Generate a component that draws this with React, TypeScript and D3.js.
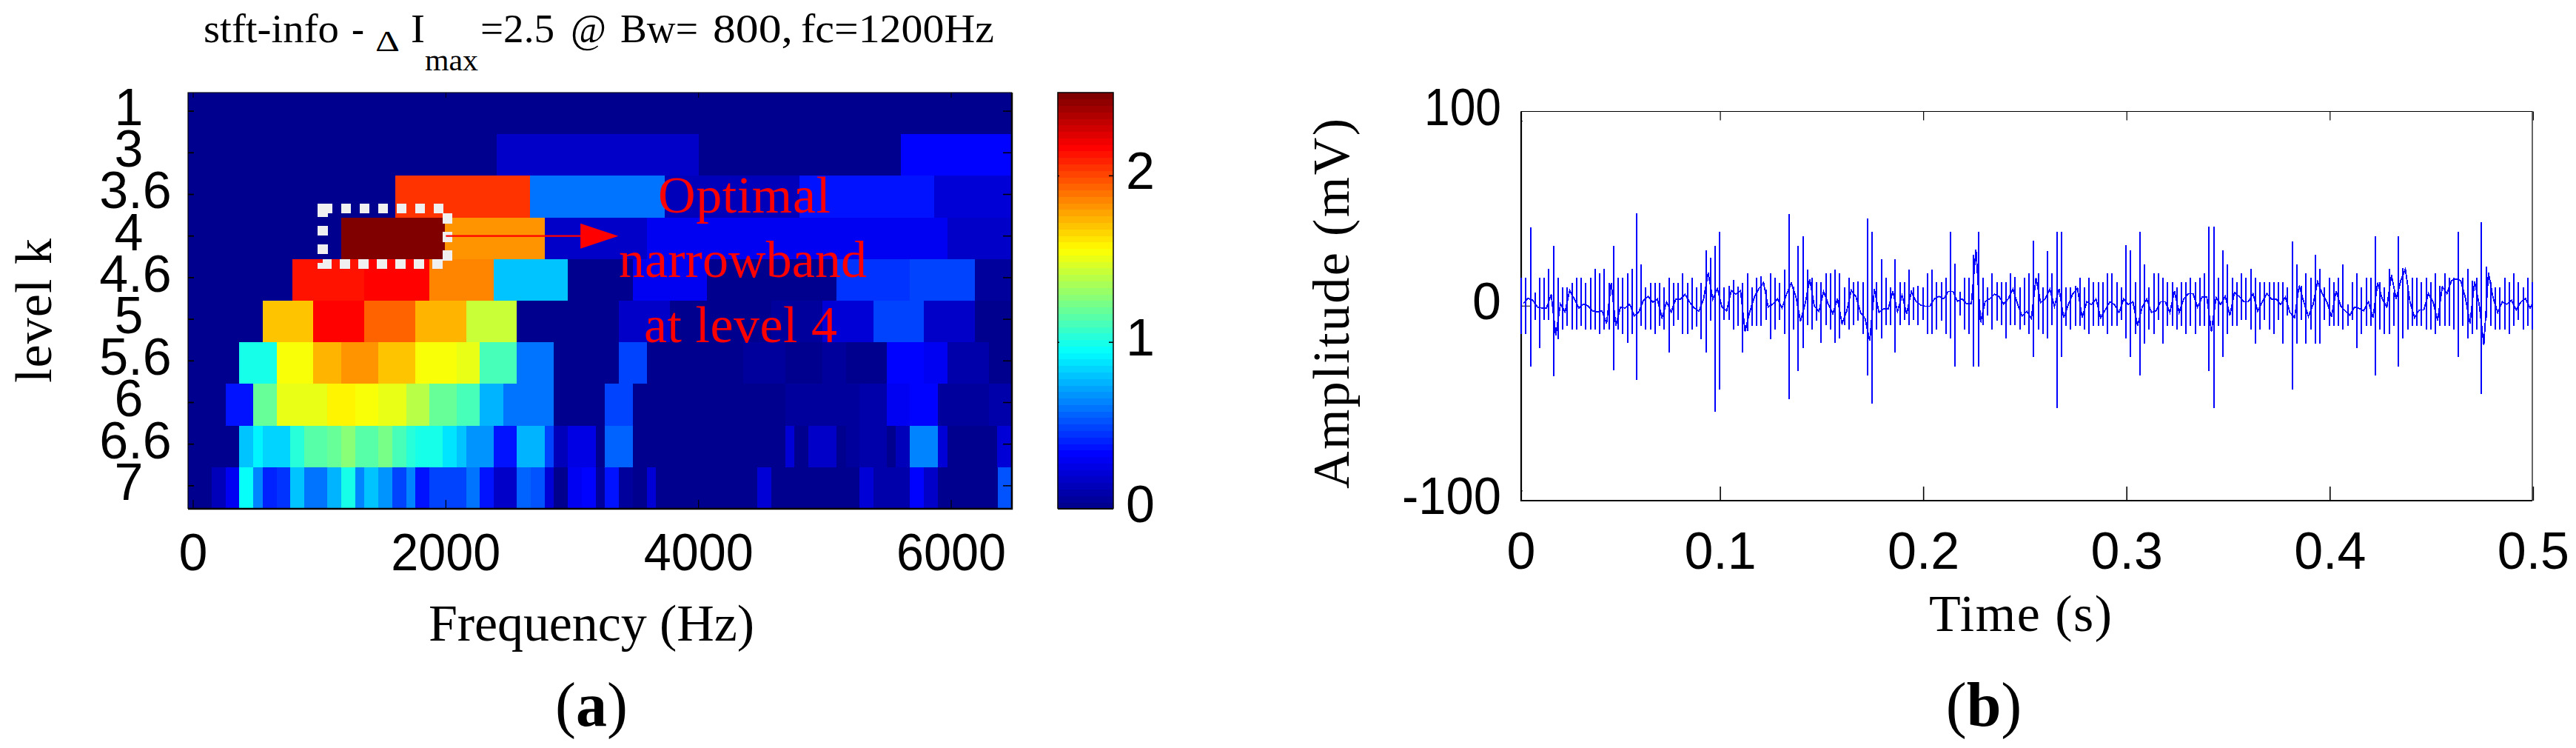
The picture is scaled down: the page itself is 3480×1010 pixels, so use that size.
import React from 'react';
import * as d3 from 'd3';

// panel (a): kurtogram
const levels = ['1', '3', '3.6', '4', '4.6', '5', '5.6', '6', '6.6', '7'];
const freqTicks = [0, 2000, 4000, 6000];
const colorTicks = [0, 1, 2];
const FREQ_MIN = -41;
const FREQ_MAX = 6480;
const I_MAX = 2.5;

// where a new cell starts on each level (Hz), the first one starts at FREQ_MIN
const rowStarts: number[][] = [
  [FREQ_MIN],
  [FREQ_MIN, 2400, 4000, 5600],
  [FREQ_MIN, 1600, 2667, 3733, 4800, 5867],
  [FREQ_MIN, 1172, 1990, 2783, 3589, 4356, 5968],
  [FREQ_MIN, 785, 1356, 1869, 2379, 2967, 3481, 4066, 5089, 5674, 6187],
  [FREQ_MIN, 551, 952, 1356, 1758, 2161, 2563, 3368, 3773, 4573, 4978, 5383, 5784, 6187],
  [FREQ_MIN, 366, 661, 952, 1172, 1465, 1758, 2086, 2270, 2563, 2856, 3368, 3589, 4356, 4690, 4978, 5165, 5492, 5784, 5968, 6300],
  [FREQ_MIN, 258, 477, 661, 1063, 1283, 1465, 1687, 1869, 2086, 2270, 2454, 2856, 3260, 3481, 4690, 5089, 5275, 5492, 5674, 5895, 6300],
  [FREQ_MIN, 366, 477, 551, 770, 881, 1063, 1172, 1283, 1465, 1576, 1687, 1758, 1977, 2086, 2161, 2379, 2563, 2783, 2856, 2967, 3188, 3260, 3481, 4690, 4759, 4870, 5089, 5165, 5275, 5492, 5563, 5674, 5895, 5968, 6365],
  [FREQ_MIN, 149, 258, 366, 477, 551, 661, 770, 881, 1063, 1172, 1283, 1356, 1465, 1576, 1687, 1758, 1869, 2086, 2161, 2270, 2381, 2563, 2671, 2783, 2856, 2967, 3078, 3188, 3260, 3368, 3481, 3589, 3661, 4467, 4575, 5273, 5384, 5674, 5784, 5897, 6367],
];

// delta I of each cell, same order as rowStarts
const rowValues: number[][] = [
  [0],
  [0, 0.17, 0, 0.35],
  [0, 2.07, 0.59, 0.15, 0.39, 0.2],
  [0, 2.5, 1.8, 0.17, 0.31, 0.28, 0.17],
  [0, 2.11, 2.15, 1.84, 0.79, 0, 0.31, 0, 0.43, 0.5, 0.05],
  [0, 1.68, 2.15, 1.95, 1.75, 1.41, 0, 0.17, 0.02, 0.05, 0.2, 0.47, 0.17, 0],
  [0, 0.98, 1.53, 1.75, 1.8, 1.68, 1.53, 1.49, 1.1, 0.59, 0.02, 0.47, 0, 0.07, 0.02, 0.05, 0, 0.35, 0.28, 0.1, 0.02],
  [0, 0.39, 1.18, 1.49, 1.6, 1.53, 1.49, 1.38, 1.18, 1.1, 0.75, 0.59, 0, 0.5, 0, 0.06, 0.04, 0.1, 0.31, 0.33, 0.06, 0.1],
  [0, 0.79, 0.92, 0.84, 1.03, 1.14, 1.18, 1.25, 1.15, 1.22, 1.1, 1.03, 0.98, 0.86, 0.79, 0.69, 0.39, 0.75, 0.47, 0.13, 0.27, 0.01, 0.55, 0, 0.2, 0, 0.17, 0.02, 0.05, 0.1, 0.03, 0.15, 0.64, 0.2, 0, 0.2],
  [0, 0.15, 0.3, 0.94, 0.64, 0.42, 0.46, 0.79, 0.62, 0.75, 0.98, 0.64, 0.79, 0.69, 0.5, 0.66, 0.36, 0.49, 0.47, 0.6, 0.39, 0.17, 0.58, 0.53, 0.2, 0, 0.28, 0.33, 0.05, 0.36, 0.06, 0.02, 0.2, 0, 0.2, 0, 0.22, 0.1, 0.33, 0.16, 0, 0.53],
];

// panel (b): vibration signal, one column of the trace per entry (mV)
const timeTicks = [0, 0.1, 0.2, 0.3, 0.4, 0.5];
const ampTicks = [100, 0, -100];
const TIME_MIN = 0.002;
const TIME_MAX = 0.4995;
const spikeHigh = [
  14.7, 14.7, 40.6, 7, 14.7, 14.7, 19, 31, 14.7, 9.5, 9.5, 12, 14.7, 14.7, 12, 14.7, 19, 16.7, 19, 12,
  31, 14.7, 14.7, 16.7, 19, 47.6, 21.5, 9.5, 12, 12, 12, 9.5, 14.7, 12, 12, 16.7, 12, 14.7, 9.5, 12,
  28.5, 24.7, 31, 38, 9.5, 10.3, 13.3, 10, 12, 16.7, 9.5, 14.7, 15.3, 8.4, 16.7, 14.7, 12,
  18.9, 47.4, 10, 31, 35.7, 18.9, 14.4, 12.2, 12.2, 16.7, 16.7, 18.9, 16.7, 9.5, 14.4, 12.2, 12.8, 12.2, 45, 38,
  12.2, 24, 14.4, 9.5, 24, 12.2, 12.2, 18.9, 9.5, 10.3, 9.5, 16.7, 18.9, 12.2, 12.2, 14.4, 38, 21.7, 7.2, 14.4,
  14.4, 26.5, 38, 14.4, 9.5, 16.7, 12.2, 12.2, 12.2, 16.7, 15, 9.5, 14.4, 16.7, 33.5, 17, 9.5, 28.4, 16.7, 38, 38,
  9.5, 9.5, 10.2, 14.7, 9.5, 14.7, 12.2, 12.2, 12.2, 16.7, 16.7, 12.2, 9.5, 31.3, 28.5, 12.2, 38, 21.6, 9.5, 16.7,
  16.7, 14.7, 12.2, 12.2, 9.5, 12.2, 12.2, 14.7, 12.2, 14.7, 16.7, 40.7, 40.7, 14.7, 28.5, 21.6, 14.7, 12.2, 16.7, 14.7,
  19, 14.7, 12.2, 12.2, 12.2, 12.2, 12.2, 12.2, 9.5, 33.3, 21.6, 10.2, 16.7, 14.7, 26.3, 19, 9.5, 14.7, 12.2, 14.7,
  21.6, 0.8, 12.2, 16.7, 9.5, 14.7, 14.7, 35.8, 12.2, 9.5, 19, 7, 35.8, 19.5, 9.5, 14.7, 14.7, 12.2, 14.7, 12.2,
  16.7, 10.2, 16.7, 14.7, 14.7, 38, 14.7, 19, 13, 14.7, 43, 20.2, 12.2, 9.5, 9.5, 14.7, 12.2, 16.7, 12.2, 9.5, 14.7, 12.2,
];
const spikeLow = [
  -14.4, -14.4, -31, -7, -21.6, -7, -7, -36, -17, -12, -10, -12, -12, -10, -12, -12, -12, -14.4, -12, -12,
  -33, -12, -14.4, -19, -14.4, -38, -10, -12, -12, -14.4, -10, -12, -24, -10, -7, -14.4, -14.4, -12, -10.5, -17,
  -24, -7.5, -54.5, -43, -7, -7, -12, -10, -24, -13, -10, -10, -10, -7, -17, -12, -7,
  -14.4, -47.8, -12.2, -33.3, -21.7, -9.9, -12.2, -7.4, -19, -9.9, -12.2, -19, -16.6, -9.9, -12.2, -9.9, -7.4, -14.4, -35.6, -50,
  -12.2, -16.6, -9.9, -9.9, -24, -9.9, -7, -9.9, -7, -9.9, -7, -14.4, -14.4, -12.2, -7.4, -14.4, -16.6, -31, -5, -12.2,
  -14.4, -31, -31, -9.9, -5, -12.2, -7.4, -9.9, -16.6, -9.9, -9.9, -12.2, -9.9, -14.4, -26, -12.2, -14.4, -16.6, -9.9, -52.3, -26,
  -10, -12, -10, -10, -12, -14.4, -10, -10, -10, -14.4, -10, -10, -7, -16.7, -26, -14.4, -35.7, -19.2, -12, -14.4,
  -7, -19.2, -10, -10, -12, -10, -14.4, -10, -14.4, -10, -10, -33.3, -52.4, -10, -26, -14.4, -10, -10, -7, -7,
  -12, -19.2, -12, -7, -12, -14.4, -7, -19.2, -4.7, -42.9, -19.2, -7, -19.2, -12, -19.2, -19.2, -7, -10, -10, -10,
  -12, -10, -7, -21.6, -14.4, -10, -10, -35.7, -12, -14.4, -14.4, -10, -31, -16.7, -12, -10, -10, -10, -12, -12,
  -14.4, -10, -10, -10, -12, -26, -10, -16.7, -14.4, -12, -45, -6, -10, -12, -12, -12, -14.4, -10, -7, -12, -10, -12,
];
const spikeMid = [
  1.5, 4, 3, -0.5, -1, -1, 6, -15, 1, -3, 8, 3.6, -1, 1, 0, -2.6, -3, -2.5, -9, 12,
  -10, -0.5, -1, 1, -5, -3, 3, 5, 2, 3.6, -6, 2, -3, 3.6, 3.6, 6, 2, -1, -2.6, 3.6,
  17, 3.6, 9, -0.5, -2.6, 8, 6, 8, -13, -3, 4.6, 9, 12, -0.5, 1, 3.6, -1,
  6.2, 11.9, 4.9, -7.7, 1.1, 13.8, -0.1, -2.7, 7.5, 1.1, -3.9, 3.7, -9, -2.7, 8.1, 4.9, -3.3, -6.5, -17.9, 8.7,
  -3.3, -1.4, -1.4, 7.5, -2.7, 5.6, -3.9, 7.5, 2.4, 0.5, -0.1, -0.1, 3.7, 4.9, 3.7, 7.5, 7.5, 2.4, 3.7, 1.1,
  1.1, 29, -8.4, 2.4, 3.7, 6.2, 4.9, 1.1, 3.7, 8.7, 1.1, -5.2, -2.7, -6.5, 14.4, 1.8, 3.7, 8.7, -0.1, 8.7, -6,
  0.8, 6.4, 9, -6, 2.2, 0.8, 3.6, -6, -2, 2.2, 0.8, -3.3, 3.6, 0.8, 2.2, -10, -0.5, 3.6, -3.3, -2.4,
  2.2, 2.2, -3.3, 7.7, -3.3, 3.6, 6.4, 6.4, -0.5, 4.6, 4.6, -13, 4.3, 0.8, 5, -4.7, 7, 5, 2.2, 2.2,
  6.4, -2.6, 2.2, 6.4, 3.6, 3.6, 0.8, 4.6, -3.3, -6, 10.5, 2.2, -5.4, 0.8, 12.6, 6.4, 2.2, -5.4, 7.7, 0,
  -2.6, -4.7, -0.5, -1.2, -2.4, 2.2, -6, 12, 3.6, -0.5, 16, 3.6, 13, 19, 2.2, -6, -2, -2, 6.4, 2.2,
  -7.5, 10, 6.4, 13, 14, 13, 4.3, -8.9, 12.6, 0.8, -20, 17, 4.3, -3.3, 2.2, 1, 3, -2, 2, 4, -1, 1,
];

const SANS = '"Liberation Sans", Arial, sans-serif';
const SERIF = '"Liberation Serif", "Times New Roman", serif';
const AXIS_SIZE = 70;

// matlab style jet, 64 flat steps
const jetRamp = d3
  .scaleLinear<string>()
  .domain([0, 0.125, 0.375, 0.625, 0.875, 1])
  .range(['#00008f', '#0000ff', '#00ffff', '#ffff00', '#ff0000', '#800000'])
  .interpolate(d3.interpolateRgb);
const jet = (v: number) => {
  const step = Math.min(63, Math.floor((v / I_MAX) * 64));
  return jetRamp(step / 63);
};

// scales
const xFreq = d3.scaleLinear().domain([FREQ_MIN, FREQ_MAX]).range([254, 1367]);
const yLevel = d3.scaleBand<string>().domain(levels).range([125, 687]);
const yColor = d3.scaleLinear().domain([0, I_MAX]).range([687, 125]);
const xTime = d3.scaleLinear().domain([TIME_MIN, TIME_MAX]).range([2055, 3421]);
const yAmp = d3.scaleLinear().domain([-100, 100]).range([676, 150.5]);

const dt = (TIME_MAX - TIME_MIN) / (spikeHigh.length - 1);
const timeAt = (i: number) => TIME_MIN + i * dt;

const spikesPath = spikeHigh
  .map((h, i) => `M${xTime(timeAt(i)).toFixed(1)},${yAmp(h).toFixed(1)}V${yAmp(spikeLow[i]).toFixed(1)}`)
  .join('');
const midLine = d3
  .line<number>()
  .x((_, i) => xTime(Math.min(TIME_MAX, timeAt(i) + dt / 2)))
  .y((d) => yAmp(d))(spikeMid) as string;

const colorSteps = d3.range(64);

// spaced: stretch with letter gaps only, the source has loose letter spacing on the axis titles
const Txt = ({ x, y, w, children, size = AXIS_SIZE, font = SERIF, fill = '#000', weight, anchor = 'start', spaced = false }: any) => (
  <text
    x={x}
    y={y}
    fontFamily={font}
    fontSize={size}
    fill={fill}
    fontWeight={weight}
    textAnchor={anchor}
    textLength={w}
    lengthAdjust={w ? (spaced ? 'spacing' : 'spacingAndGlyphs') : undefined}
  >
    {children}
  </text>
);

function Kurtogram() {
  const left = xFreq.range()[0];
  const right = xFreq.range()[1];
  const top = yLevel.range()[0];
  const bottom = yLevel.range()[1];
  const rowH = yLevel.bandwidth();
  const tickY = (lv: string) => (yLevel(lv) as number) + rowH / 2 - 3;
  const arrowY = tickY('4');

  return (
    <g>
      {rowValues.map((vals, r) =>
        vals.map((v, c) => {
          const x0 = xFreq(rowStarts[r][c]);
          const x1 = xFreq(c + 1 < vals.length ? rowStarts[r][c + 1] : FREQ_MAX);
          return (
            <rect
              key={`${r}-${c}`}
              x={x0}
              y={yLevel(levels[r])}
              width={x1 - x0 + 0.4}
              height={rowH + 0.4}
              fill={jet(v)}
              shapeRendering="crispEdges"
            />
          );
        }),
      )}

      {/* frame, the bottom and right sides are heavier in the source */}
      <path d={`M${left},${bottom}V${top}H${right}`} fill="none" stroke="#000" strokeWidth={1.2} />
      <path d={`M${left},${bottom}H${right}V${top}`} fill="none" stroke="#000" strokeWidth={2.5} />

      {levels.map((lv, i) => (
        <g key={lv}>
          <line x1={left} x2={left + 8} y1={tickY(lv)} y2={tickY(lv)} stroke="#000" strokeWidth={1.8} />
          <line x1={right - 12} x2={right} y1={tickY(lv)} y2={tickY(lv)} stroke="#000" strokeWidth={1.5} />
          <Txt
            x={lv.length > 1 ? 183 : 174}
            y={(yLevel(lv) as number) + 44}
            font={SANS}
            anchor="middle"
          >
            {levels[i]}
          </Txt>
        </g>
      ))}
      {freqTicks.map((f) => (
        <g key={f}>
          <line x1={xFreq(f)} x2={xFreq(f)} y1={bottom} y2={bottom - 12} stroke="#000" strokeWidth={1.2} />
          <line x1={xFreq(f)} x2={xFreq(f)} y1={top} y2={top + 7} stroke="#000" strokeWidth={1} />
          <Txt x={xFreq(f)} y={770} font={SANS} anchor="middle" w={f === 0 ? undefined : 148}>
            {f}
          </Txt>
        </g>
      ))}

      {/* optimal band box and arrow */}
      <rect
        x={xFreq(1025)}
        y={281.5}
        width={xFreq(2012) - xFreq(1025)}
        height={75}
        fill="none"
        stroke="#f0f0f0"
        strokeWidth={13.5}
        strokeDasharray="13.5 11.5"
        shapeRendering="crispEdges"
      />
      <line x1={xFreq(2000)} x2={xFreq(3100)} y1={arrowY} y2={arrowY} stroke="#ff0000" strokeWidth={2.2} />
      <path
        d={`M${xFreq(3065)},${arrowY - 17}L${xFreq(3365)},${arrowY}L${xFreq(3065)},${arrowY + 17}Z`}
        fill="#ff0000"
      />
      <Txt x={889} y={287} w={233} fill="#ff0000" spaced>Optimal</Txt>
      <Txt x={836} y={374} w={335} fill="#ff0000" spaced>narrowband</Txt>
      <Txt x={870} y={462} w={261} fill="#ff0000" spaced>at level 4</Txt>

      {/* title */}
      <Txt x={275} y={57} size={54} w={183}>stft-info</Txt>
      <Txt x={475} y={57} size={54} w={17}>-</Txt>
      <Txt x={507} y={69} size={40} w={33}>Δ</Txt>
      <Txt x={555} y={57} size={54} w={19}>I</Txt>
      <Txt x={574} y={95} size={40} w={72}>max</Txt>
      <Txt x={649} y={57} size={54} w={100}>=2.5</Txt>
      <Txt x={771} y={57} size={54} w={48}>@</Txt>
      <Txt x={838} y={57} size={54} w={105}>Bw=</Txt>
      <Txt x={963} y={57} size={54} w={108}>800,</Txt>
      <Txt x={1082} y={57} size={54} w={261}>fc=1200Hz</Txt>

      <Txt x={579} y={865} w={440} spaced>Frequency (Hz)</Txt>
      <g transform="translate(69,517) rotate(-90)">
        <Txt x={0} y={0} w={195} spaced>level k</Txt>
      </g>
      <text x={799} y={980} textAnchor="middle" fontFamily={SERIF} fontSize={84}>
        (<tspan fontWeight="bold">a</tspan>)
      </text>

      {/* colour bar */}
      {colorSteps.map((s) => (
        <rect
          key={s}
          x={1429}
          width={75}
          y={yColor(((s + 1) / 64) * I_MAX)}
          height={(bottom - top) / 64 + 0.4}
          fill={jetRamp(s / 63)}
          shapeRendering="crispEdges"
        />
      ))}
      <path d={`M1429,${bottom}V${top}H1504V${bottom}`} fill="none" stroke="#000" strokeWidth={1.5} />
      <path d={`M1429,${bottom}H1504`} fill="none" stroke="#000" strokeWidth={2} />
      {colorTicks.map((t) => (
        <g key={t}>
          <line x1={1498} x2={1504} y1={yColor(t)} y2={yColor(t)} stroke="#000" strokeWidth={1.5} />
          <line x1={1429} x2={1431} y1={yColor(t)} y2={yColor(t)} stroke="#000" strokeWidth={1.5} />
          <Txt x={1521} y={yColor(t) + 18} font={SANS}>{t}</Txt>
        </g>
      ))}
    </g>
  );
}

function SignalPlot() {
  const [left, right] = xTime.range();
  const bottom = yAmp(-100);
  const top = yAmp(100);
  return (
    <g>
      <path d={`M${left},${top}H${right}V${bottom}`} fill="none" stroke="#000" strokeWidth={1.2} />
      <path d={`M${left},${top}V${bottom}H${right}`} fill="none" stroke="#000" strokeWidth={2.2} />
      {timeTicks.map((t) => {
        const x = Math.max(left, xTime(t));
        return (
          <g key={t}>
            <line x1={x} x2={x} y1={bottom} y2={bottom - 19} stroke="#000" strokeWidth={1.6} />
            <line x1={x} x2={x} y1={top} y2={top + 12} stroke="#000" strokeWidth={1.2} />
            <Txt x={x} y={768} font={SANS} anchor="middle">{t}</Txt>
          </g>
        );
      })}
      {ampTicks.map((a) => (
        <g key={a}>
          <line x1={left} x2={left + (a === 0 ? 14 : 2)} y1={yAmp(a * 0.95)} y2={yAmp(a * 0.95)} stroke="#000" strokeWidth={1} />
          <Txt x={2028} y={yAmp(a) + 18} font={SANS} anchor="end" w={a === 0 ? undefined : a > 0 ? 104 : 134}>
            {a === -100 ? '-100' : a}
          </Txt>
        </g>
      ))}
      <path d={midLine} fill="none" stroke="#0000ff" strokeWidth={1.8} shapeRendering="crispEdges" />
      <path d={spikesPath} fill="none" stroke="#0000ff" strokeWidth={2} shapeRendering="crispEdges" />

      <Txt x={2606} y={852} w={247} spaced>Time (s)</Txt>
      <g transform="translate(1822,660) rotate(-90)">
        <Txt x={0} y={0} w={500} spaced>Amplitude (mV)</Txt>
      </g>
      <text x={2680} y={980} textAnchor="middle" fontFamily={SERIF} fontSize={84}>
        (<tspan fontWeight="bold">b</tspan>)
      </text>
    </g>
  );
}

export default function App() {
  return (
    <svg
      width={3480}
      height={1010}
      viewBox="0 0 3480 1010"
      style={{ position: 'absolute', left: 0, top: 0, background: '#fff' }}
    >
      <Kurtogram />
      <SignalPlot />
    </svg>
  );
}
